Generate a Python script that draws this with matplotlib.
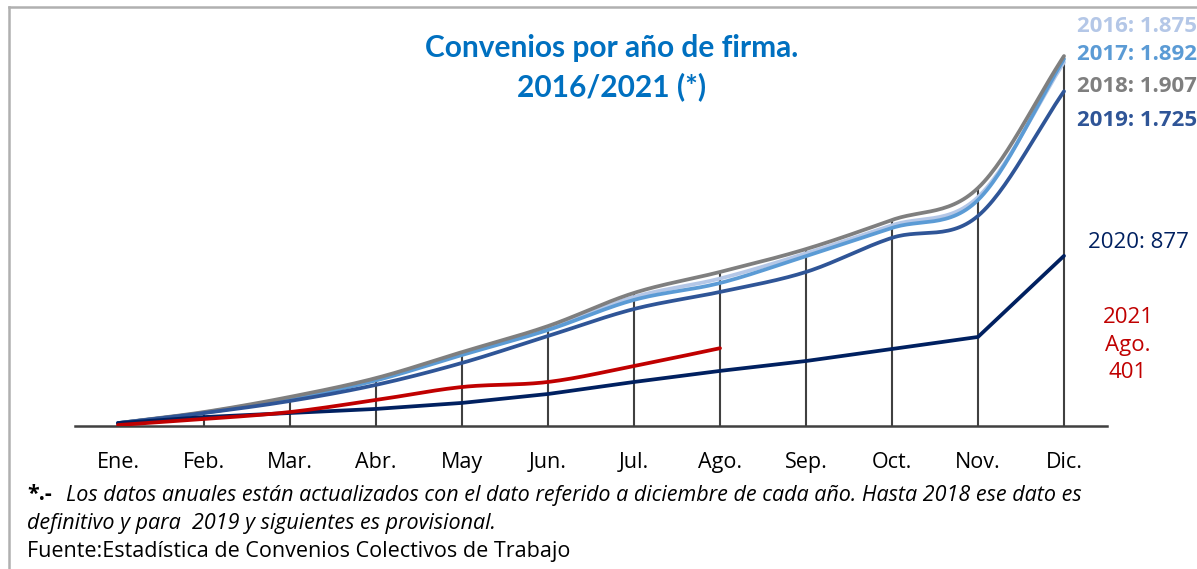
import numpy as np
import matplotlib.pyplot as plt
from matplotlib.lines import Line2D

plt.rcParams['font.family'] = ['Open Sans', 'DejaVu Sans']

meses = ['Ene.', 'Feb.', 'Mar.', 'Abr.', 'May', 'Jun.', 'Jul.', 'Ago.',
         'Sep.', 'Oct.', 'Nov.', 'Dic.']

# convenios acumulados por mes de firma
c2016 = [14, 70, 145, 240, 372, 505, 665, 760, 890, 1035, 1180, 1875]
c2017 = [15, 68, 140, 235, 366, 495, 650, 737, 876, 1021, 1165, 1892]
c2018 = [15, 72, 150, 247, 381, 515, 686, 794, 912, 1062, 1227, 1907]
c2019 = [15, 67, 129, 212, 325, 464, 603, 691, 794, 970, 1083, 1725]
c2020 = [15, 46, 67, 88, 119, 165, 227, 284, 335, 397, 459, 877]
c2021 = [5, 36, 72, 134, 201, 227, 309, 401]

colores = {'2016': '#b4c7e7', '2017': '#5b9bd5', '2018': '#7f7f7f',
           '2019': '#2f5597', '2020': '#002060', '2021': '#c00000'}


def suavizar(y, n=30):
    # curva tipo Catmull-Rom, como las lineas suavizadas de Excel
    y = np.asarray(y, dtype=float)
    x = np.arange(len(y), dtype=float)
    px = np.concatenate([[2 * x[0] - x[1]], x, [2 * x[-1] - x[-2]]])
    py = np.concatenate([[2 * y[0] - y[1]], y, [2 * y[-1] - y[-2]]])
    xs, ys = [], []
    t = np.linspace(0, 1, n)
    for i in range(1, len(px) - 2):
        for arr, p in ((xs, px), (ys, py)):
            p0, p1, p2, p3 = p[i - 1], p[i], p[i + 1], p[i + 2]
            arr.extend(0.5 * ((2 * p1) + (-p0 + p2) * t
                              + (2 * p0 - 5 * p1 + 4 * p2 - p3) * t ** 2
                              + (-p0 + 3 * p1 - 3 * p2 + p3) * t ** 3))
    return np.array(xs), np.array(ys)


fig = plt.figure(figsize=(11.97, 5.69), dpi=100)
ax = fig.add_axes([75 / 1197, 1 - 426 / 569, (1107 - 75) / 1197, 388 / 569])

x = np.arange(12)
# lineas de caida
tope = np.max([c2016, c2017, c2018, c2019, c2020], axis=0)
ax.vlines(x, 0, tope, color='#404040', lw=1.5, zorder=1)

for año, serie in (('2016', c2016), ('2017', c2017), ('2018', c2018), ('2019', c2019)):
    xs, ys = suavizar(serie)
    ax.plot(xs, ys, color=colores[año], lw=2.7, solid_capstyle='round', zorder=3, clip_on=False)
ax.plot(x, c2020, color=colores['2020'], lw=2.7, solid_capstyle='round', zorder=3)
xs, ys = suavizar(c2021)
ax.plot(xs, ys, color=colores['2021'], lw=2.7, solid_capstyle='round', zorder=4)

ax.set_xlim(-0.5, 11.5)
ax.set_ylim(0, 2000)
ax.set_yticks([])
ax.set_xticks(x)
ax.set_xticklabels(meses, fontsize=15.5)
ax.tick_params(axis='x', length=0, pad=19)
for s in ['top', 'right', 'left']:
    ax.spines[s].set_visible(False)
ax.spines['bottom'].set_color('#404040')
ax.spines['bottom'].set_linewidth(1.8)

# titulo
fig.text(612 / 1197, 1 - 48 / 569, 'Convenios por año de firma.', color='#0070c0',
         fontsize=21.5, fontweight='bold', ha='center', va='center', family='Lato')
fig.text(612 / 1197, 1 - 87 / 569, '2016/2021 (*)', color='#0070c0',
         fontsize=21.5, fontweight='bold', ha='center', va='center', family='Lato')

# etiquetas de totales
etiquetas = [('2016: 1.875', '2016', 26), ('2017: 1.892', '2017', 55),
             ('2018: 1.907', '2018', 86), ('2019: 1.725', '2019', 121)]
for txt, año, ypix in etiquetas:
    fig.text(1077 / 1197, 1 - ypix / 569, txt, color=colores[año], fontsize=16,
             fontweight='bold', ha='left', va='center')
fig.text(1088 / 1197, 1 - 243 / 569, '2020: 877', color=colores['2020'], fontsize=16,
         ha='left', va='center')
fig.text(1128 / 1197, 1 - 345 / 569, '2021\nAgo.\n401', color=colores['2021'], fontsize=16,
         ha='center', va='center', linespacing=1.4)

# notas
fig.text(27 / 1197, 1 - 495 / 569, '*.-', fontsize=15.5, fontweight='bold', va='center')
fig.text(66 / 1197, 1 - 495 / 569,
         'Los datos anuales están actualizados con el dato referido a diciembre de cada año. '
         'Hasta 2018 ese dato es', fontsize=15.5, style='italic', va='center')
fig.text(27 / 1197, 1 - 523 / 569, 'definitivo y para  2019 y siguientes es provisional.',
         fontsize=15.5, style='italic', va='center')
fig.text(27 / 1197, 1 - 551 / 569, 'Fuente:Estadística de Convenios Colectivos de Trabajo',
         fontsize=15.5, va='center')

# marco
fig.add_artist(Line2D([9 / 1197, 1], [1 - 7 / 569, 1 - 7 / 569], color='#b0b0b0', lw=1.8))
fig.add_artist(Line2D([9 / 1197, 9 / 1197], [0, 1 - 7 / 569], color='#b0b0b0', lw=1.8))

fig.savefig('out.png', dpi=100)
